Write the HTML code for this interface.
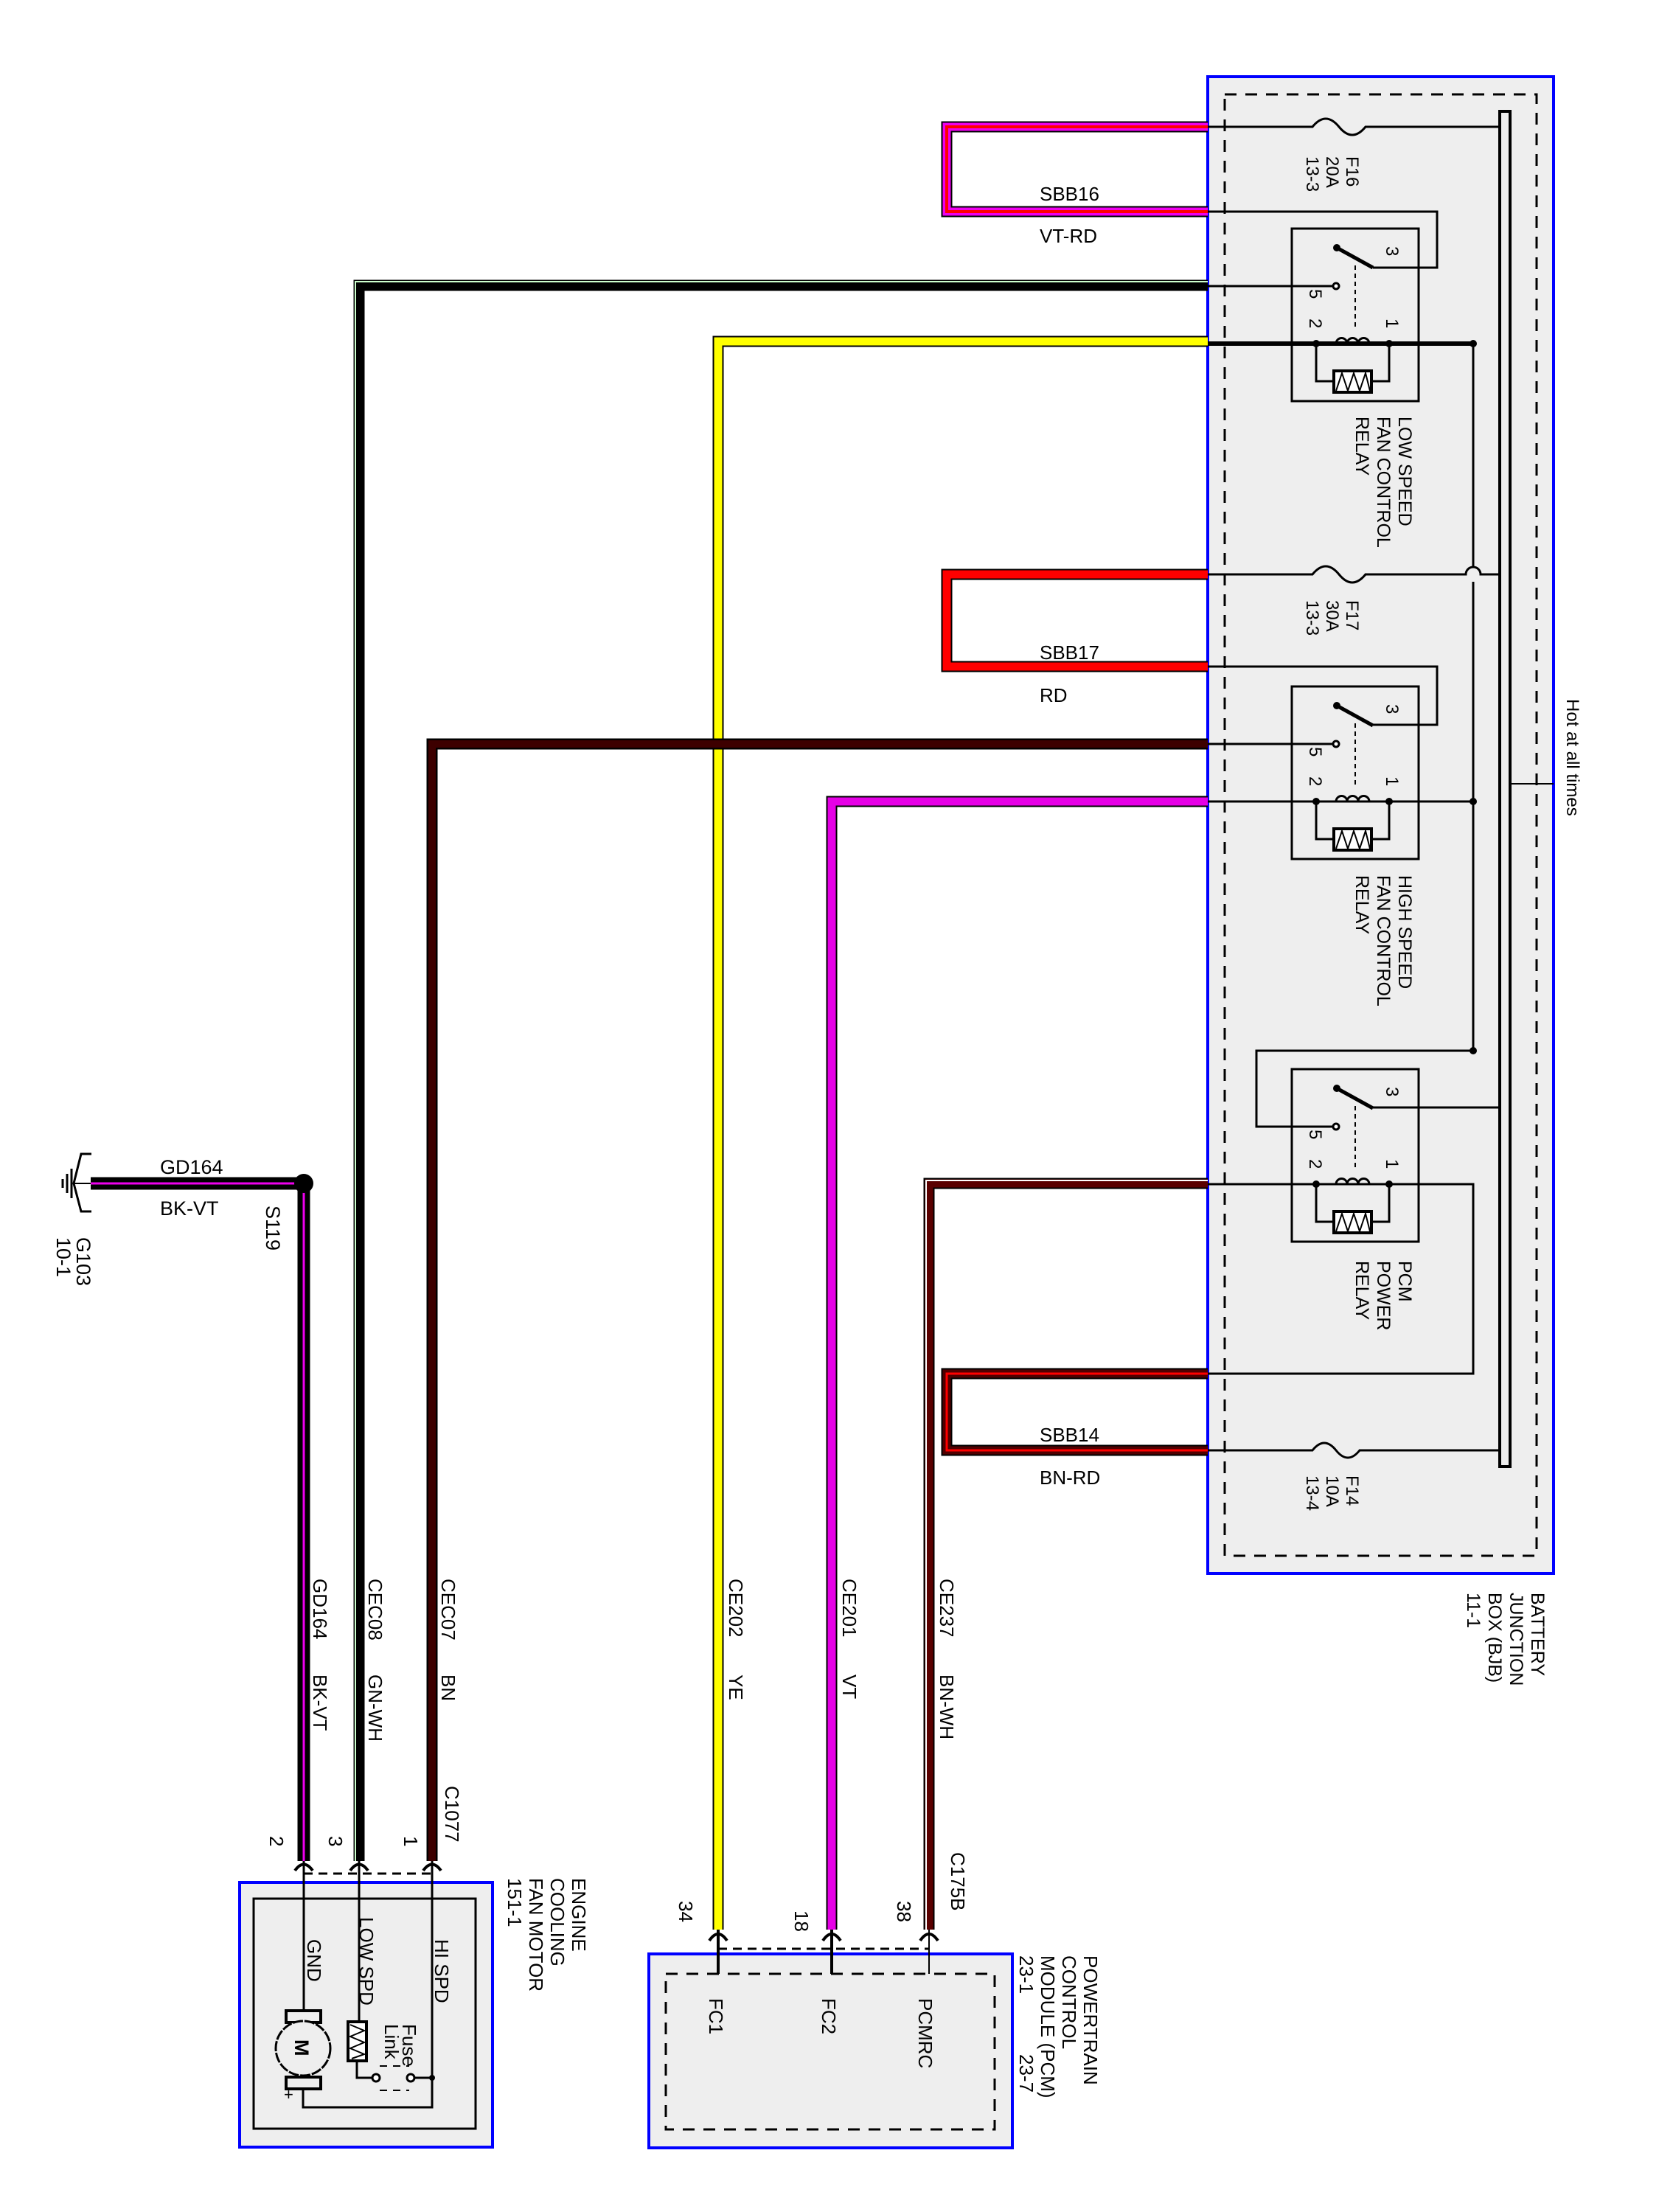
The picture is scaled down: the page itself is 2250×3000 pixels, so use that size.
<!DOCTYPE html>
<html><head><meta charset="utf-8"><style>html,body{margin:0;padding:0;background:#fff}svg{display:block}text{font-family:"Liberation Sans",sans-serif;fill:#000}</style></head><body>
<svg width="2250" height="3000" viewBox="0 0 2250 3000" xmlns="http://www.w3.org/2000/svg">
<!-- BJB -->
<rect x="1638" y="104" width="469" height="2030" fill="#eeeeee" stroke="#0000ff" stroke-width="4"/>
<rect x="1661" y="128" width="423" height="1982" fill="none" stroke="#000" stroke-width="3" stroke-dasharray="16,12"/>
<rect x="2034" y="151" width="14" height="1838" fill="#eee" stroke="#000" stroke-width="4"/>
<line x1="2048" y1="1063" x2="2107" y2="1063" stroke="#000" stroke-width="2"/>
<text transform="translate(2125,948) rotate(90)" font-size="24">Hot at all times</text>
<text transform="translate(2077,2160) rotate(90)" font-size="25"><tspan x="0" y="0">BATTERY</tspan><tspan x="0" dy="29">JUNCTION</tspan><tspan x="0" dy="29">BOX (BJB)</tspan><tspan x="0" dy="29">11-1</tspan></text>

<!-- internal lines -->
<g stroke="#000" stroke-width="3" fill="none">
<path d="M1638 172 H1780 q18 -22 36 0 q18 22 36 0 H2034"/>
<path d="M1638 287 H1949 V363 H1862"/>
<path d="M1638 388 H1808"/>
<path d="M1638 779 H1780 q18 -22 36 0 q18 22 36 0 H1988 a10 10 0 0 1 20 0 H2034"/>
<path d="M1638 904 H1949 V983 H1862"/>
<path d="M1638 1009 H1808"/>
<path d="M1638 1087 H1998"/>
<path d="M1862 1502 H2034"/>
<path d="M1808 1528 H1704 V1425 H1998"/>
<path d="M1638 1606 H1998 V1863 H1638"/>
<path d="M1638 1967 H1780 q16 -20 32 0 q16 20 32 0 H2034"/>
<path d="M1998 466 V769 M1998 789 V1425"/>
</g>
<path d="M1638 466 H1998" stroke="#000" stroke-width="6"/>
<g font-size="24">
<text transform="translate(1826,212) rotate(90)"><tspan x="0" y="0">F16</tspan><tspan x="0" dy="27">20A</tspan><tspan x="0" dy="27">13-3</tspan></text>
<text transform="translate(1826,814) rotate(90)"><tspan x="0" y="0">F17</tspan><tspan x="0" dy="27">30A</tspan><tspan x="0" dy="27">13-3</tspan></text>
<text transform="translate(1826,2001) rotate(90)"><tspan x="0" y="0">F14</tspan><tspan x="0" dy="27">10A</tspan><tspan x="0" dy="27">13-4</tspan></text>
</g>

<!-- relays -->
<defs>
<g id="relay">
<rect x="1752" y="310" width="172" height="234" fill="none" stroke="#000" stroke-width="3"/>
<circle cx="1813" cy="336" r="5" fill="#000"/>
<line x1="1813" y1="336" x2="1862" y2="363" stroke="#000" stroke-width="5"/>
<circle cx="1812" cy="388" r="4" fill="#fff" stroke="#000" stroke-width="3"/>
<line x1="1838" y1="360" x2="1838" y2="448" stroke="#000" stroke-width="2" stroke-dasharray="6,5"/>
<path d="M1812 466 a7.5 7.5 0 0 1 15 0 a7.5 7.5 0 0 1 15 0 a7.5 7.5 0 0 1 15 0" fill="none" stroke="#000" stroke-width="3"/>
<circle cx="1785" cy="466" r="5" fill="#000"/>
<circle cx="1884" cy="466" r="5" fill="#000"/>
<path d="M1785 466 V517 H1809 M1860 517 H1884 V466" fill="none" stroke="#000" stroke-width="3"/>
<rect x="1809" y="503" width="51" height="29" fill="#fff" stroke="#000" stroke-width="4"/>
<path d="M1812 530 L1820 506 L1828 530 L1836 506 L1844 530 L1852 506 L1858 530" fill="none" stroke="#000" stroke-width="2"/>
<text transform="translate(1880,334) rotate(90)" font-size="24">3</text>
<text transform="translate(1880,432) rotate(90)" font-size="24">1</text>
<text transform="translate(1776,392) rotate(90)" font-size="24">5</text>
<text transform="translate(1776,432) rotate(90)" font-size="24">2</text>
</g>
</defs>
<use href="#relay"/>
<use href="#relay" transform="translate(0,621)"/>
<use href="#relay" transform="translate(0,1140)"/>
<circle cx="1998" cy="466" r="5" fill="#000"/>
<circle cx="1998" cy="1087" r="5" fill="#000"/>
<circle cx="1998" cy="1425" r="5" fill="#000"/>
<g font-size="25">
<text transform="translate(1897,565) rotate(90)"><tspan x="0" y="0">LOW SPEED</tspan><tspan x="0" dy="29">FAN CONTROL</tspan><tspan x="0" dy="29">RELAY</tspan></text>
<text transform="translate(1897,1187) rotate(90)"><tspan x="0" y="0">HIGH SPEED</tspan><tspan x="0" dy="29">FAN CONTROL</tspan><tspan x="0" dy="29">RELAY</tspan></text>
<text transform="translate(1897,1710) rotate(90)"><tspan x="0" y="0">PCM</tspan><tspan x="0" dy="29">POWER</tspan><tspan x="0" dy="29">RELAY</tspan></text>
</g>

<!-- SBB loops -->
<g fill="none" stroke-linejoin="miter">
<path d="M1638 172 H1284 V287 H1638" stroke="#000" stroke-width="15"/>
<path d="M1638 172 H1284 V287 H1638" stroke="#ee00ee" stroke-width="11"/>
<path d="M1638 172 H1284 V287 H1638" stroke="#ff0000" stroke-width="4"/>
<path d="M1638 779 H1284 V904 H1638" stroke="#000" stroke-width="15"/>
<path d="M1638 779 H1284 V904 H1638" stroke="#ff0000" stroke-width="11"/>
<path d="M1638 1863 H1284 V1967 H1638" stroke="#000" stroke-width="15"/>
<path d="M1638 1863 H1284 V1967 H1638" stroke="#500000" stroke-width="11"/>
<path d="M1638 1863 H1284 V1967 H1638" stroke="#ff0000" stroke-width="3"/>
</g>
<g font-size="26">
<text x="1410" y="272">SBB16</text><text x="1410" y="329">VT-RD</text>
<text x="1410" y="894">SBB17</text><text x="1410" y="952">RD</text>
<text x="1410" y="1955">SBB14</text><text x="1410" y="2013">BN-RD</text>
</g>

<!-- external wires -->
<g fill="none" stroke-linejoin="miter">
<path d="M1638 387 H487 V2524" stroke="#000" stroke-width="15"/>
<path d="M1638 382 H482 V2524" stroke="#ccffcc" stroke-width="2"/>
<path d="M1638 463 H974 V2617" stroke="#000" stroke-width="15"/>
<path d="M1638 463 H974 V2617" stroke="#ffff00" stroke-width="11"/>
<path d="M1638 1009 H586 V2524" stroke="#000" stroke-width="15"/>
<path d="M1638 1009 H586 V2524" stroke="#3d0000" stroke-width="10"/>
<path d="M1638 1087 H1128 V2617" stroke="#000" stroke-width="15"/>
<path d="M1638 1087 H1128 V2617" stroke="#e600e6" stroke-width="11"/>
<path d="M1638 1605 H1260 V2617" stroke="#000" stroke-width="15"/>
<path d="M1638 1605 H1260 V2617" stroke="#5a0000" stroke-width="11"/>
<path d="M1638 1601 H1256 V2617" stroke="#fff" stroke-width="2"/>
<path d="M123 1605 H412 V2524" stroke="#000" stroke-width="17"/>
<path d="M123 1605 H412 V2524" stroke="#ee00ee" stroke-width="3"/>
</g>
<circle cx="412" cy="1605" r="13" fill="#000"/>
<g stroke="#000" fill="none" stroke-width="3">
<path d="M124 1565 H110 L100 1605 L110 1643 H124"/>
<line x1="100" y1="1605" x2="123" y2="1605" stroke-width="2"/>
<line x1="97" y1="1585" x2="97" y2="1625"/>
<line x1="91" y1="1592" x2="91" y2="1618"/>
<line x1="85" y1="1599" x2="85" y2="1611"/>
</g>
<g font-size="27">
<text x="217" y="1592">GD164</text>
<text x="217" y="1648">BK-VT</text>
<text transform="translate(361,1635) rotate(90)">S119</text>
<text transform="translate(104,1678) rotate(90)"><tspan x="0" y="0">G103</tspan><tspan x="0" dy="27">10-1</tspan></text>
</g>

<g font-size="26">
<text transform="translate(425,2141) rotate(90)">GD164</text><text transform="translate(425,2271) rotate(90)">BK-VT</text>
<text transform="translate(500,2141) rotate(90)">CEC08</text><text transform="translate(500,2271) rotate(90)">GN-WH</text>
<text transform="translate(599,2141) rotate(90)">CEC07</text><text transform="translate(599,2271) rotate(90)">BN</text>
<text transform="translate(989,2141) rotate(90)">CE202</text><text transform="translate(989,2271) rotate(90)">YE</text>
<text transform="translate(1143,2141) rotate(90)">CE201</text><text transform="translate(1143,2271) rotate(90)">VT</text>
<text transform="translate(1275,2141) rotate(90)">CE237</text><text transform="translate(1275,2271) rotate(90)">BN-WH</text>
<text transform="translate(604,2422) rotate(90)">C1077</text>
<text transform="translate(548,2490) rotate(90)">1</text>
<text transform="translate(446,2490) rotate(90)">3</text>
<text transform="translate(366,2490) rotate(90)">2</text>
<text transform="translate(1290,2512) rotate(90)">C175B</text>
<text transform="translate(1217,2578) rotate(90)">38</text>
<text transform="translate(1078,2591) rotate(90)">18</text>
<text transform="translate(921,2578) rotate(90)">34</text>
</g>

<!-- motor -->
<rect x="325" y="2553" width="343" height="359" fill="#eeeeee" stroke="#0000ff" stroke-width="4"/>
<rect x="344" y="2575" width="301" height="312" fill="none" stroke="#000" stroke-width="3"/>
<line x1="412" y1="2541" x2="585" y2="2541" stroke="#000" stroke-width="3" stroke-dasharray="12,8"/>
<g fill="none" stroke="#000" stroke-width="3">
<path d="M412 2524 V2727"/>
<path d="M487 2524 V2742"/>
<path d="M586 2524 V2858 H411 V2833"/>
<path d="M484 2795 V2818 H505"/>
<path d="M562 2818 H586"/>
<path d="M400 2537 Q412 2520 424 2537 M475 2537 Q487 2520 499 2537 M574 2537 Q586 2520 598 2537" stroke-width="4"/>
<rect x="388" y="2727" width="47" height="16" stroke-width="4"/>
<rect x="388" y="2817" width="47" height="16" stroke-width="4"/>
<rect x="472" y="2742" width="25" height="53" fill="#fff" stroke-width="4"/>
<path d="M475 2746 L494 2754 L475 2762 L494 2770 L475 2778 L494 2786 L477 2792" stroke-width="2"/>
<path d="M515 2835 H555 M515 2802 H555" stroke-width="2" stroke-dasharray="10,8"/>
</g>
<circle cx="411" cy="2778" r="37" fill="#eee" stroke="#000" stroke-width="3" stroke-dasharray="14,2"/>
<circle cx="510" cy="2818" r="5" fill="#fff" stroke="#000" stroke-width="3"/>
<circle cx="557" cy="2818" r="5" fill="#fff" stroke="#000" stroke-width="3"/>
<circle cx="586" cy="2818" r="4" fill="#000"/>
<text transform="translate(400,2766) rotate(90)" font-size="27" font-weight="bold">M</text>
<g font-size="26">
<text transform="translate(417,2630) rotate(90)">GND</text>
<text transform="translate(488,2600) rotate(90)">LOW SPD</text>
<text transform="translate(590,2630) rotate(90)">HI SPD</text>
<text transform="translate(546,2745) rotate(90)"><tspan x="0" y="0">Fuse</tspan><tspan x="0" dy="24">Link</tspan></text>
<text x="385" y="2848" font-size="22">+</text>
<text transform="translate(776,2547) rotate(90)"><tspan x="0" y="0">ENGINE</tspan><tspan x="0" dy="29">COOLING</tspan><tspan x="0" dy="29">FAN MOTOR</tspan><tspan x="0" dy="29">151-1</tspan></text>
</g>

<!-- PCM -->
<rect x="880" y="2650" width="493" height="263" fill="#eeeeee" stroke="#0000ff" stroke-width="4"/>
<rect x="903" y="2677" width="446" height="211" fill="none" stroke="#000" stroke-width="3" stroke-dasharray="16,12"/>
<line x1="974" y1="2643" x2="1260" y2="2643" stroke="#000" stroke-width="3" stroke-dasharray="12,8"/>
<g fill="none" stroke="#000" stroke-width="3">
<path d="M974 2617 V2677 M1128 2617 V2677" stroke-width="4"/>
<path d="M1260 2617 V2677" stroke-width="2"/>
<path d="M962 2632 Q974 2614 986 2632 M1116 2632 Q1128 2614 1140 2632 M1248 2632 Q1260 2614 1272 2632" stroke-width="4"/>
</g>
<g font-size="26">
<text transform="translate(962,2710) rotate(90)">FC1</text>
<text transform="translate(1115,2710) rotate(90)">FC2</text>
<text transform="translate(1246,2710) rotate(90)">PCMRC</text>
<text transform="translate(1470,2652) rotate(90)"><tspan x="0" y="0">POWERTRAIN</tspan><tspan x="0" dy="29">CONTROL</tspan><tspan x="0" dy="29">MODULE (PCM)</tspan><tspan x="0" dy="29">23-1</tspan></text>
<text transform="translate(1383,2786) rotate(90)">23-7</text>
</g>
</svg>
</body></html>
